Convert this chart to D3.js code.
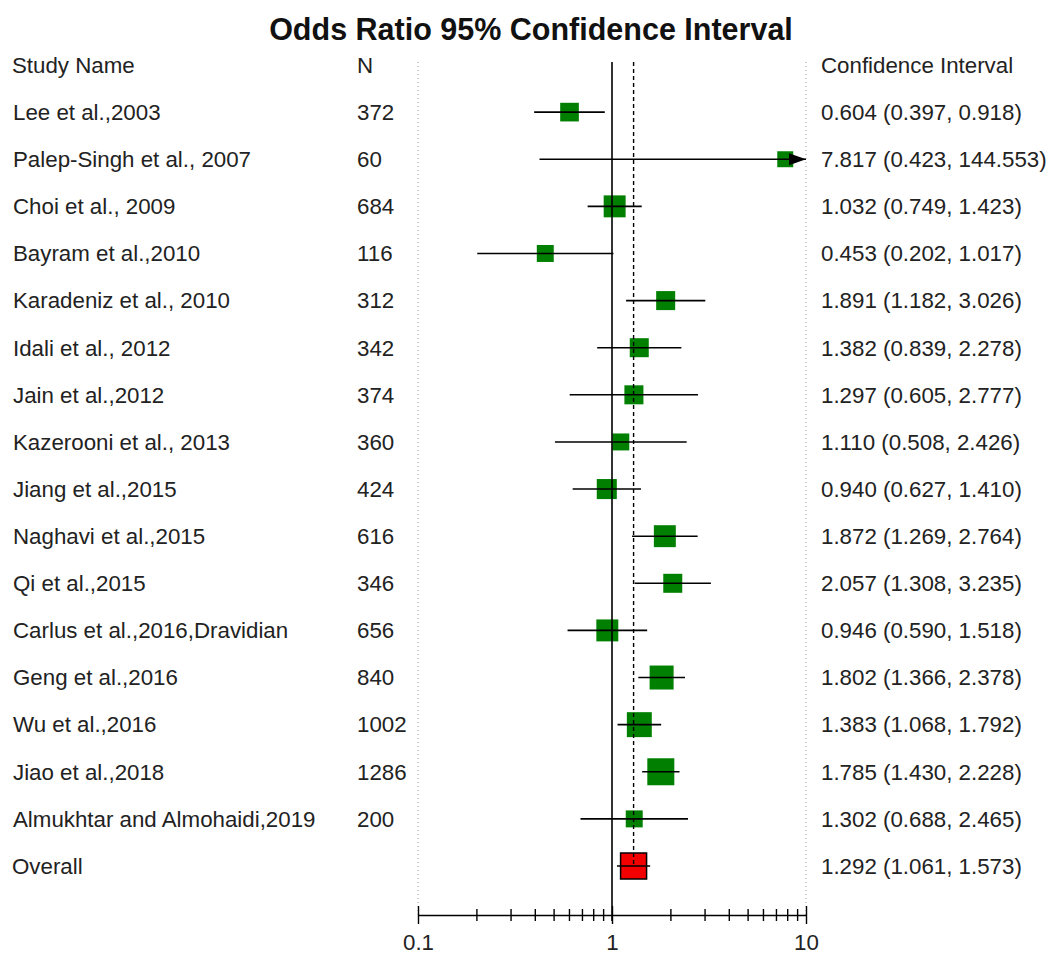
<!DOCTYPE html>
<html>
<head>
<meta charset="utf-8">
<script src="https://cdn.jsdelivr.net/npm/d3@7"></script>
<style>
  body { margin: 0; background: #fff; }
  svg text { font-family: Arial, "Liberation Sans", sans-serif; fill: #222; }
</style>
</head>
<body>
<svg id="chart" width="1049" height="954"></svg>
<script>
// study rows
let studies = ["Lee et al.,2003", "Palep-Singh et al., 2007", "Choi et al., 2009", "Bayram et al.,2010",
    "Karadeniz et al., 2010", "Idali et al., 2012", "Jain et al.,2012", "Kazerooni et al., 2013",
    "Jiang et al.,2015", "Naghavi et al.,2015", "Qi et al.,2015", "Carlus et al.,2016,Dravidian",
    "Geng et al.,2016", "Wu et al.,2016", "Jiao et al.,2018", "Almukhtar and Almohaidi,2019"];
let nVals = [372, 60, 684, 116, 312, 342, 374, 360, 424, 616, 346, 656, 840, 1002, 1286, 200];
let orVals = [0.604, 7.817, 1.032, 0.453, 1.891, 1.382, 1.297, 1.110, 0.940, 1.872, 2.057, 0.946, 1.802, 1.383, 1.785, 1.302];
let lower = [0.397, 0.423, 0.749, 0.202, 1.182, 0.839, 0.605, 0.508, 0.627, 1.269, 1.308, 0.590, 1.366, 1.068, 1.430, 0.688];
let upper = [0.918, 144.553, 1.423, 1.017, 3.026, 2.278, 2.777, 2.426, 1.410, 2.764, 3.235, 1.518, 2.378, 1.792, 2.228, 2.465];
// relative weights (%)
let weights = [5.2, 3.8, 7.2, 4.3, 5.4, 5.4, 5.4, 4.3, 6.0, 7.2, 5.4, 7.2, 8.6, 9.3, 10.9, 4.3];

let overallLabel = "Overall";
let overallOR = 1.292, overallLower = 1.061, overallUpper = 1.573;

let axisTickLabels = [0.1, 1, 10];

let fmt = d3.format(".3f");
let svg = d3.select("#chart");

let x = d3.scaleLog().domain([0.1, 10]).range([418, 806]);

let rowKeys = ["header"].concat(studies).concat([overallLabel]);
let y = d3.scalePoint().domain(rowKeys).range([65, 866]);

let size = d3.scaleSqrt().domain([0, 10.9]).range([0, 27]);

let axisY = 915;
let plotTop = 62;
let green = "#007f00";
let fs = "22.3px";

// title
svg.append("text")
    .attr("x", 531).attr("y", 40)
    .attr("text-anchor", "middle")
    .style("font-size", "30.5px")
    .style("font-weight", "bold")
    .style("fill", "#111")
    .text("Odds Ratio 95% Confidence Interval");

// column headers
let head = svg.append("g").style("font-size", fs);
head.append("text").attr("x", 12).attr("y", y("header")).attr("dy", "0.35em").text("Study Name");
head.append("text").attr("x", 357).attr("y", y("header")).attr("dy", "0.35em").text("N");
head.append("text").attr("x", 821).attr("y", y("header")).attr("dy", "0.35em").text("Confidence Interval");

// dotted borders at the ends of the range
svg.selectAll(".edge")
    .data(x.domain())
    .enter().append("line")
    .attr("class", "edge")
    .attr("x1", d => x(d)).attr("x2", d => x(d))
    .attr("y1", plotTop).attr("y2", axisY)
    .attr("stroke", "#9a9a9a")
    .attr("stroke-width", 1)
    .attr("stroke-dasharray", "1,3");

let rows = d3.range(studies.length).map(i => {
    return {
        name: studies[i], n: nVals[i], or: orVals[i],
        lo: lower[i], hi: upper[i], w: weights[i]
    };
});

// boxes
svg.selectAll(".box")
    .data(rows)
    .enter().append("rect")
    .attr("class", "box")
    .attr("x", d => x(d.or) - size(d.w) / 2)
    .attr("y", d => y(d.name) - size(d.w) / 2)
    .attr("width", d => size(d.w))
    .attr("height", d => size(d.w))
    .attr("fill", green);

// overall box
let ovSide = 26;
svg.append("rect")
    .attr("x", x(overallOR) - ovSide / 2)
    .attr("y", y(overallLabel) - ovSide / 2)
    .attr("width", ovSide).attr("height", ovSide)
    .attr("fill", "#f20000")
    .attr("stroke", "#000")
    .attr("stroke-width", 1.5);

// CI whiskers, clipped to the axis range
let maxV = x.domain()[1];
svg.selectAll(".ci")
    .data(rows)
    .enter().append("line")
    .attr("class", "ci")
    .attr("x1", d => x(Math.max(d.lo, 0.1)))
    .attr("x2", d => x(Math.min(d.hi, maxV)))
    .attr("y1", d => y(d.name)).attr("y2", d => y(d.name))
    .attr("stroke", "#000")
    .attr("stroke-width", 1.6);

// arrows for intervals running off the right side
svg.selectAll(".arrow")
    .data(rows.filter(d => d.hi > maxV))
    .enter().append("path")
    .attr("class", "arrow")
    .attr("d", d => {
        let xe = x(maxV), yc = y(d.name);
        return "M" + (xe - 17) + "," + (yc - 6) + "L" + xe + "," + yc + "L" + (xe - 17) + "," + (yc + 6) + "Z";
    })
    .attr("fill", "#000");

svg.append("line")
    .attr("x1", x(overallLower)).attr("x2", x(overallUpper))
    .attr("y1", y(overallLabel)).attr("y2", y(overallLabel))
    .attr("stroke", "#000")
    .attr("stroke-width", 1.6);

// line of no effect
svg.append("line")
    .attr("x1", x(1)).attr("x2", x(1))
    .attr("y1", plotTop).attr("y2", axisY + 6)
    .attr("stroke", "#000")
    .attr("stroke-width", 1.6);

// overall estimate
svg.append("line")
    .attr("x1", x(overallOR)).attr("x2", x(overallOR))
    .attr("y1", plotTop).attr("y2", y(overallLabel))
    .attr("stroke", "#000")
    .attr("stroke-width", 1.4)
    .attr("stroke-dasharray", "4,3");

// text columns
let txt = svg.append("g").style("font-size", fs);
txt.selectAll(".name")
    .data(rows).enter().append("text")
    .attr("x", 13).attr("y", d => y(d.name)).attr("dy", "0.35em")
    .text(d => d.name);
txt.selectAll(".n")
    .data(rows).enter().append("text")
    .attr("x", 357).attr("y", d => y(d.name)).attr("dy", "0.35em")
    .text(d => d.n);
txt.selectAll(".cit")
    .data(rows).enter().append("text")
    .attr("x", 821).attr("y", d => y(d.name)).attr("dy", "0.35em")
    .text(d => fmt(d.or) + " (" + fmt(d.lo) + ", " + fmt(d.hi) + ")");
txt.append("text")
    .attr("x", 12).attr("y", y(overallLabel)).attr("dy", "0.35em")
    .text(overallLabel);
txt.append("text")
    .attr("x", 821).attr("y", y(overallLabel)).attr("dy", "0.35em")
    .text(fmt(overallOR) + " (" + fmt(overallLower) + ", " + fmt(overallUpper) + ")");

// x axis
let isMajor = d => axisTickLabels.indexOf(d) >= 0;
let axis = d3.axisBottom(x)
    .tickValues(x.ticks())
    .tickSizeOuter(0)
    .tickFormat(d => isMajor(d) ? d3.format("~g")(d) : "");

let gx = svg.append("g")
    .attr("transform", "translate(0," + axisY + ")")
    .call(axis);
gx.select(".domain").attr("stroke", "#000").attr("stroke-width", 1.6);
gx.selectAll(".tick line")
    .attr("stroke", "#000")
    .attr("stroke-width", 1.4)
    .attr("y1", d => isMajor(d) ? -9 : -6)
    .attr("y2", d => isMajor(d) ? 9 : 6);
gx.selectAll(".tick text")
    .attr("y", 27)
    .attr("dy", "0.35em")
    .style("font-size", fs)
    .style("font-family", "Arial, 'Liberation Sans', sans-serif")
    .style("fill", "#222");
</script>
</body>
</html>
